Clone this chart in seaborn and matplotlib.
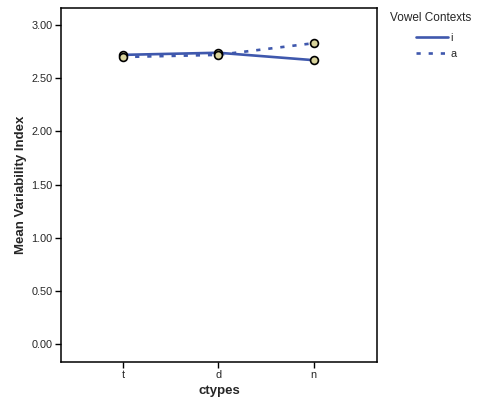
import matplotlib
matplotlib.use("Agg")
import matplotlib.pyplot as plt
import pandas as pd
import seaborn as sns
from matplotlib.lines import Line2D

sns.set_theme(style="white")
plt.rcParams["font.family"] = ["Liberation Sans", "DejaVu Sans"]

ctypes = ["t", "d", "n"]
vowels = ["i", "a"]
mean_i = [2.72, 2.74, 2.67]
mean_a = [2.70, 2.72, 2.83]

df = pd.DataFrame({
    "ctypes": ctypes * 2,
    "vowel": ["i"] * 3 + ["a"] * 3,
    "mean": mean_i + mean_a,
})
df["pos"] = df["ctypes"].map({c: k for k, c in enumerate(ctypes)})

line_color = "#3f58ad"
fig = plt.figure(figsize=(4.8, 4.05), dpi=100)
ax = fig.add_axes([0.127, 0.106, 0.658, 0.874])

sns.lineplot(data=df, x="pos", y="mean", style="vowel", style_order=vowels,
             dashes={"i": "", "a": (1.6, 3)}, color=line_color, linewidth=1.9,
             legend=False, ax=ax)
sns.scatterplot(data=df, x="pos", y="mean", color="#d8d39b", edgecolor="black",
                linewidth=1.2, s=32, zorder=5, legend=False, ax=ax)

ax.set_xlim(-0.65, 2.66)
ax.set_ylim(-0.17, 3.16)
ax.set_xticks(range(len(ctypes)))
ax.set_xticklabels(ctypes)
ax.set_yticks([0, 0.5, 1.0, 1.5, 2.0, 2.5, 3.0])
ax.set_yticklabels([f"{v:.2f}" for v in ax.get_yticks()])
ax.tick_params(axis="both", direction="out", length=4, width=1, labelsize=7.8,
               color="black", pad=2, left=True, bottom=True)
for s in ax.spines.values():
    s.set_color("black")
    s.set_linewidth(1.1)
ax.set_xlabel("ctypes", fontsize=9.5, fontweight="bold", labelpad=3)
ax.set_ylabel("Mean Variability Index", fontsize=9.5, fontweight="bold", labelpad=3)

# legend: title on its own, entries indented below it
fig.text(390 / 480, 1 - 18 / 405, "Vowel Contexts", fontsize=8.5, va="center", ha="left")
handles = [
    Line2D([], [], color=line_color, linewidth=1.9, linestyle="-"),
    Line2D([], [], color=line_color, linewidth=1.9, linestyle=(0, (1.6, 3))),
]
fig.legend(handles, vowels, loc="upper left", bbox_to_anchor=(408 / 480, 1 - 25 / 405),
           frameon=False, fontsize=7.8, handlelength=3.0, handletextpad=0.2,
           labelspacing=0.55, borderpad=0.2)

fig.savefig("out.png", dpi=100)
